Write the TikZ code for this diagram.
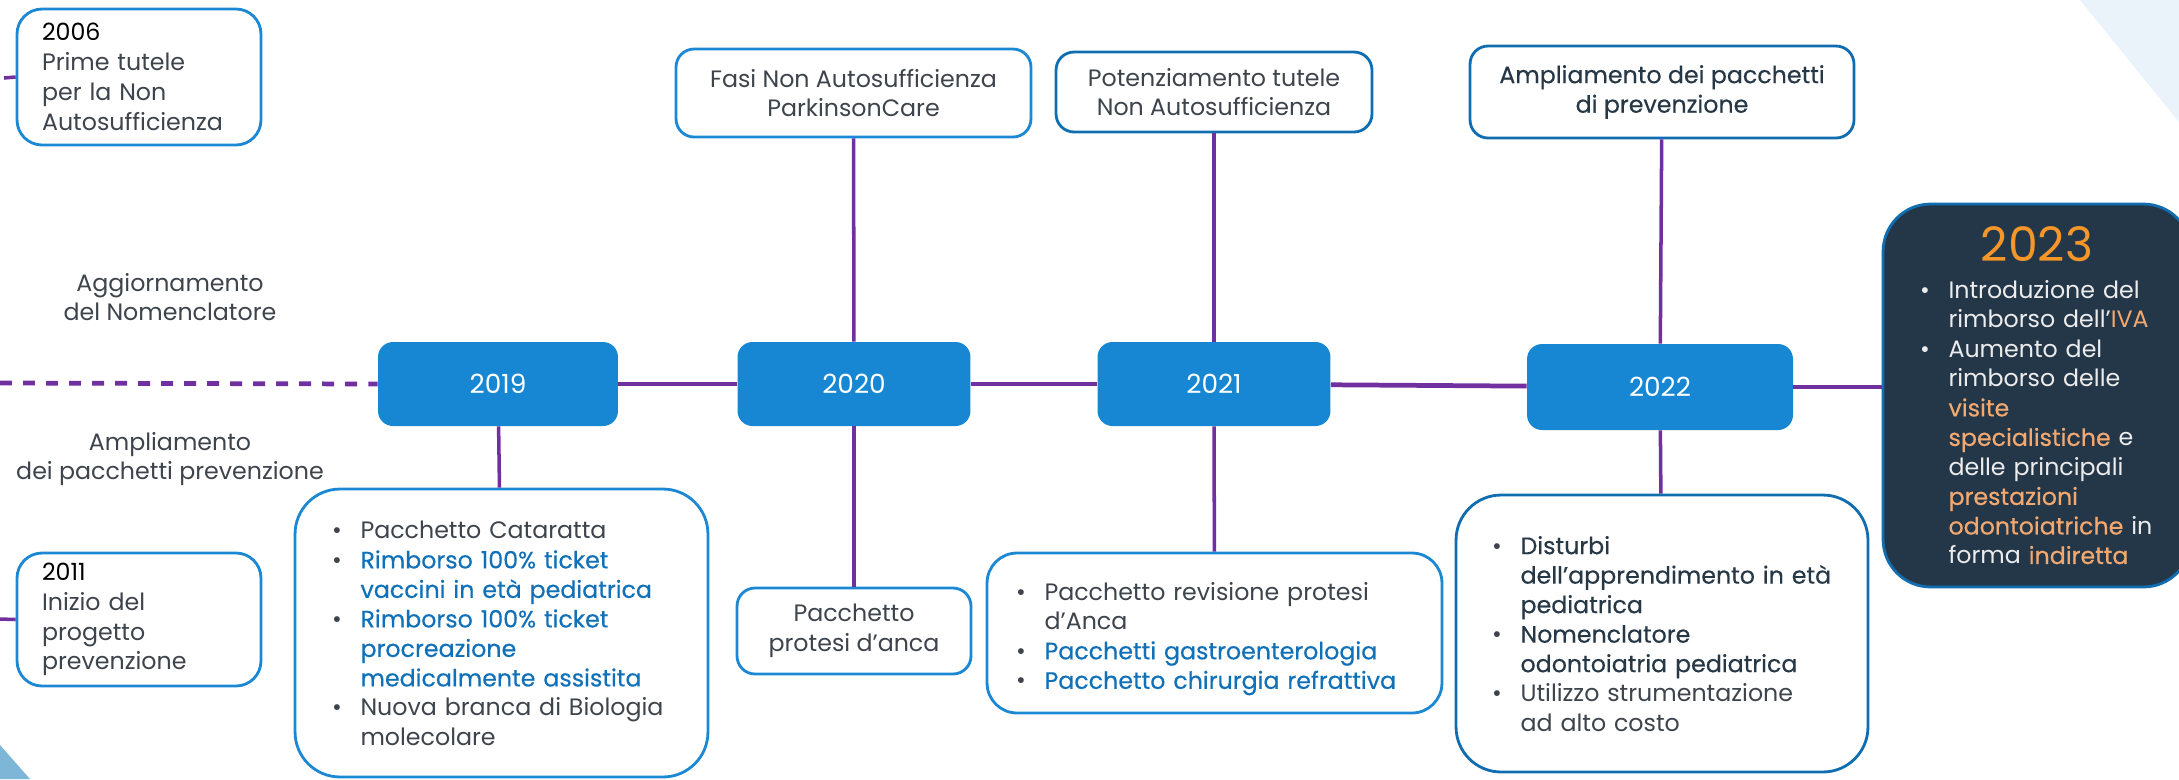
\documentclass[tikz,border=0pt]{standalone}
\usepackage{fontspec}
\setmainfont{Poppins}
\newfontfamily\medfont{Poppins}[FakeBold=0.4]
\usepackage{enumitem}
\usetikzlibrary{positioning, calc}
\definecolor{linepurple}{RGB}{112, 48, 160}
\definecolor{yearblue}{RGB}{23, 135, 212}
\definecolor{edgeblue}{RGB}{28, 136, 212}
\definecolor{edgedark}{RGB}{16, 110, 176}
\definecolor{navytext}{RGB}{38, 55, 70}
\definecolor{graytext}{RGB}{62, 68, 76}
\definecolor{emblue}{RGB}{16, 112, 184}
\definecolor{boxnavy}{RGB}{36, 55, 73}
\definecolor{orange23}{RGB}{246, 150, 40}
\definecolor{peach}{RGB}{243, 168, 112}
\definecolor{softwhite}{RGB}{236, 236, 236}
\definecolor{cornerlight}{RGB}{234, 242, 250}
\definecolor{cornerblue}{RGB}{126, 182, 216}
\newlist{boxlist}{itemize}{1}
\setlist[boxlist]{label={\color{graytext}\textbullet}, leftmargin=0.57cm, labelwidth=0.57cm, labelsep=0pt, align=left, itemsep=0pt, topsep=0pt, parsep=0pt, partopsep=0pt}
\tikzstyle{yearbox} = [
    rectangle,
    rounded corners=0.3cm,
    fill=yearblue,
    text=white,
    minimum height=1.68cm,
    font=\fontsize{15}{18}\selectfont
]
\tikzstyle{notebox} = [
    rectangle,
    rounded corners=0.36cm,
    draw=edgeblue,
    line width=1.6pt,
    fill=white,
    align=center,
    inner sep=0pt,
    font=\fontsize{13.5}{16.8}\selectfont
]
\tikzstyle{listbox} = [
    rectangle,
    draw=edgeblue,
    line width=1.6pt,
    fill=white,
    align=left,
    inner sep=0pt,
    font=\fontsize{13.5}{16.8}\selectfont
]
\tikzstyle{timeline} = [
    draw=linepurple,
    line width=2.7pt
]
\tikzstyle{stemline} = [
    draw=linepurple,
    line width=2pt
]

\begin{document}
\begin{tikzpicture}[x=0.02cm, y=-0.02cm]

\useasboundingbox (0,0) rectangle (2179,779);
\clip (0,0) rectangle (2179,779);

% Corner decorations
\fill[cornerlight] (2080,0) -- (2179,0) -- (2179,122) -- cycle;
\fill[cornerblue] (0,745) -- (30,779) -- (0,779) -- cycle;

% Timeline years
\node[yearbox, minimum width=4.8cm] (y2019) at (498, 384) {2019};
\node[yearbox, minimum width=4.66cm] (y2020) at (854, 384) {2020};
\node[yearbox, minimum width=4.66cm] (y2021) at (1214, 384) {2021};
\node[yearbox, minimum width=5.32cm, minimum height=1.72cm] (y2022) at (1660, 387) {2022};

% Earlier milestones
\node[notebox, rounded corners=0.5cm, align=left, text width=3.88cm, minimum width=4.88cm, minimum height=2.72cm, text=graytext, font=\fontsize{13.5}{17}\selectfont] (top2006) at (139, 77) {
    {\color{black}2006}\\Prime tutele\\per la Non\\Autosufficienza
};
\node[notebox, rounded corners=0.5cm, align=left, text width=3.88cm, minimum width=4.88cm, minimum height=2.66cm, text=graytext, font=\fontsize{13.5}{17}\selectfont] (b2011) at (139, 619.5) {
    {\color{black}2011}\\Inizio del\\progetto\\prevenzione
};
\coordinate (tick2006) at (4, 78);
\coordinate (tick2011) at (0, 619);
\coordinate (dashstart) at (0, 383);

% Side labels
\node[text=graytext, align=center, font=\fontsize{13.5}{16.5}\selectfont] (lblNomencl) at (170, 297) {Aggiornamento\\del Nomenclatore};
\node[text=graytext, align=center, font=\fontsize{13.5}{16.5}\selectfont] (lblPrev) at (170, 459) {Ampliamento\\dei pacchetti prevenzione};

% Boxes above the timeline
\node[notebox, minimum width=7.1cm, minimum height=1.76cm, text=graytext] (top2020) at (853.5, 93) {Fasi Non Autosufficienza\\ParkinsonCare};
\node[notebox, draw=edgedark, minimum width=6.32cm, minimum height=1.6cm, text=graytext] (top2021) at (1214, 92) {Potenziamento tutele\\Non Autosufficienza};
\node[notebox, draw=edgedark, minimum width=7.68cm, minimum height=1.84cm, text=navytext, font=\fontsize{13.5}{16.8}\medfont] (top2022) at (1662, 92) {Ampliamento dei pacchetti\\di prevenzione};

% Boxes below the timeline
\node[listbox, rounded corners=0.9cm, text width=6.78cm, minimum width=8.26cm, minimum height=5.76cm] (b2019) at (501.5, 633) {
    \vspace*{-0.22cm}
    \begin{boxlist}
    \item {\color{graytext}Pacchetto Cataratta}
    \item {\medfont\color{emblue}Rimborso 100\% ticket\newline vaccini in età pediatrica}
    \item {\medfont\color{emblue}Rimborso 100\% ticket\newline procreazione\newline medicalmente assistita}
    \item {\color{graytext}Nuova branca di Biologia\newline molecolare}
    \end{boxlist}
};
\node[notebox, minimum width=4.68cm, minimum height=1.72cm, text=graytext] (b2020) at (854, 631) {Pacchetto\\protesi d’anca};
\node[listbox, rounded corners=0.6cm, text width=7.94cm, minimum width=9.1cm, minimum height=3.2cm] (b2021) at (1214.5, 633) {
    \begin{boxlist}
    \item {\color{graytext}Pacchetto revisione protesi\newline d’Anca}
    \item {\medfont\color{emblue}Pacchetti gastroenterologia}
    \item {\medfont\color{emblue}Pacchetto chirurgia refrattiva}
    \end{boxlist}
};
\node[listbox, draw=edgedark, rounded corners=0.9cm, text width=6.8cm, minimum width=8.24cm, minimum height=5.54cm] (b2022) at (1662, 633.5) {
    \vspace*{-0.22cm}
    \begin{boxlist}
    \item {\medfont\color{navytext}Disturbi\newline dell’apprendimento in età\newline pediatrica}
    \item {\medfont\color{navytext}Nomenclatore\newline odontoiatria pediatrica}
    \item {\color{graytext}Utilizzo strumentazione\newline ad alto costo}
    \end{boxlist}
};

% 2023 highlight
\node[listbox, draw=edgedark, fill=boxnavy, rounded corners=0.95cm, text width=4.68cm, minimum width=6.16cm, minimum height=7.66cm, text=softwhite] (b2023) at (2037, 395.5) {
    {\centering\color{orange23}\fontsize{27}{30}\selectfont 2023\par}
    \vspace{4pt}
    \begin{boxlist}[label={\color{softwhite}\textbullet}]
    \item Introduzione del\newline rimborso dell’{\color{peach}IVA}
    \item Aumento del\newline rimborso delle\newline {\medfont\color{peach}visite\newline specialistiche} e\newline delle principali\newline {\medfont\color{peach}prestazioni\newline odontoiatriche} in\newline forma {\medfont\color{peach}indiretta}
    \end{boxlist}
};

% Timeline line
\draw[timeline, dash pattern=on 6.8pt off 6.3pt] (dashstart) -- (y2019.west);
\draw[timeline] (y2019) -- (y2020);
\draw[timeline] (y2020) -- (y2021);
\draw[timeline] (y2021) -- (y2022);
\draw[timeline] (y2022.east) -- (y2022.east -| b2023.west);

% Stems
\draw[stemline] (tick2006) -- (top2006.west);
\draw[stemline] (tick2011) -- (b2011.west);
\draw[stemline] (top2020) -- (y2020);
\draw[stemline] (top2021) -- (y2021);
\draw[stemline] (top2022) -- (y2022);
\draw[stemline] (y2019) -- (b2019);
\draw[stemline] (y2020) -- (b2020);
\draw[stemline] (y2021) -- (b2021);
\draw[stemline] (y2022) -- (b2022);

\end{tikzpicture}
\end{document}
